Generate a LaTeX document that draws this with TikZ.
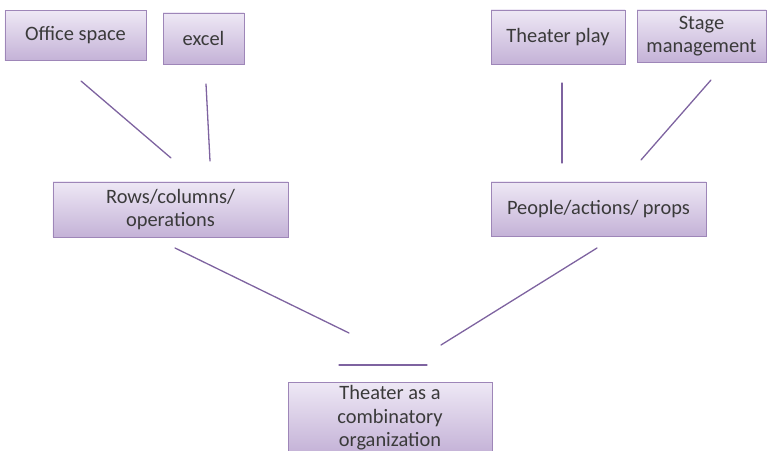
\documentclass[tikz,border=0pt]{standalone}
\usepackage{fontspec}
\setmainfont{Carlito}
\definecolor{boxtop}{RGB}{238,232,245}
\definecolor{boxbot}{RGB}{196,178,215}
\definecolor{boxline}{RGB}{158,134,184}
\definecolor{linkline}{RGB}{126,99,160}
\definecolor{boxtext}{RGB}{58,58,58}
\tikzset{
        box/.style={rectangle, draw=boxline, line width=0.9bp, top color=boxtop, bottom color=boxbot,
          text=boxtext, align=center, inner sep=0pt, font=\fontsize{20.5}{23.5}\selectfont},
        link/.style={draw=linkline, line width=1.3bp, line cap=round},
          }
\begin{document}
\begin{tikzpicture}[x=1bp, y=-1bp]
        \useasboundingbox (0,0) rectangle (768,451);
        \clip (0,0) rectangle (768,451);
        % top row
        \node[box, minimum width=141bp, minimum height=50bp] (office) at (75.5,35.5) {Office space};
        \node[box, minimum width=81bp, minimum height=51bp] (excel) at (203.5,38.5) {excel};
        \node[box, minimum width=134bp, minimum height=54bp] (play) at (558,37) {Theater play};
        \node[box, minimum width=129bp, minimum height=52bp] (stage) at (701.5,36) {Stage\\management};
        % middle row
        \node[box, minimum width=235bp, minimum height=55bp] (rows) at (170.5,209.5) {Rows/columns/\\operations};
        \node[box, minimum width=215bp, minimum height=54bp] (people) at (598.5,209) {People/actions/ props};
        % bottom
        \node[box, minimum width=204bp, minimum height=71bp] (theater) at (390,418) {Theater as a\\combinatory\\organization};
        % free line ends
        \coordinate (office-a) at (81,81);   \coordinate (office-b) at (171,158);
        \coordinate (excel-a) at (206,84);   \coordinate (excel-b) at (210,161);
        \coordinate (play-a) at (562,83);    \coordinate (play-b) at (562,163);
        \coordinate (stage-a) at (711,80);   \coordinate (stage-b) at (641,160);
        \coordinate (rows-a) at (175,248);   \coordinate (rows-b) at (349,333);
        \coordinate (people-a) at (597,248); \coordinate (people-b) at (441,345);
        \coordinate (theater-a) at (339,365); \coordinate (theater-b) at (427,365);
        \draw[link] (office-a) -- (office-b);
        \draw[link] (excel-a) -- (excel-b);
        \draw[link] (play-a) -- (play-b);
        \draw[link] (stage-a) -- (stage-b);
        \draw[link] (rows-a) -- (rows-b);
        \draw[link] (people-a) -- (people-b);
        \draw[link] (theater-a) -- (theater-b);
      \end{tikzpicture}
\end{document}
